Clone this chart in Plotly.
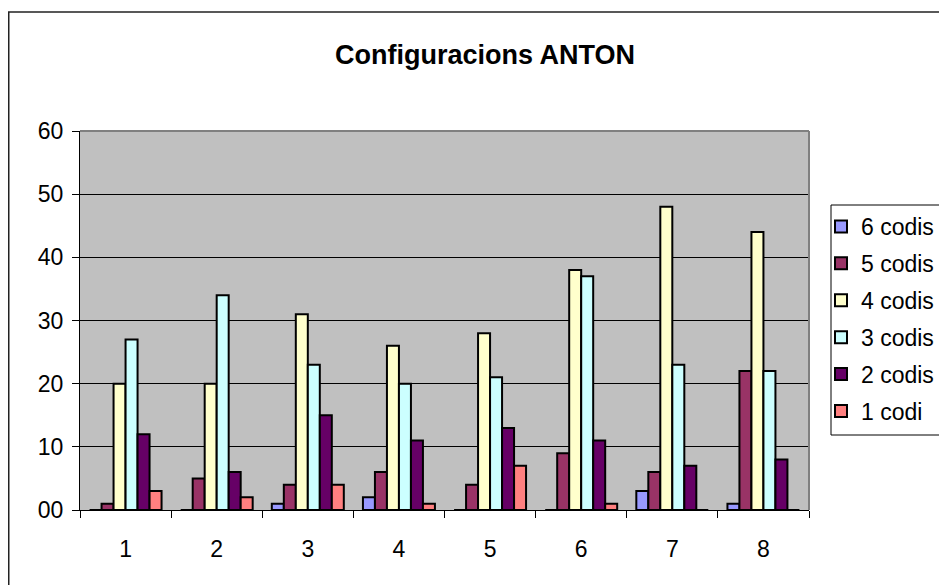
import plotly.graph_objects as go

categories = ["1", "2", "3", "4", "5", "6", "7", "8"]
series_names = ["6 codis", "5 codis", "4 codis", "3 codis", "2 codis", "1 codi"]
codis6 = [0, 0, 1, 2, 0, 0, 3, 1]
codis5 = [1, 5, 4, 6, 4, 9, 6, 22]
codis4 = [20, 20, 31, 26, 28, 38, 48, 44]
codis3 = [27, 34, 23, 20, 21, 37, 23, 22]
codis2 = [12, 6, 15, 11, 13, 11, 7, 8]
codis1 = [3, 2, 4, 1, 7, 1, 0, 0]
series_values = [codis6, codis5, codis4, codis3, codis2, codis1]
colors = ["#9999FF", "#993366", "#FFFFCC", "#CCFFFF", "#660066", "#FF8080"]
y_tickvals = [0, 10, 20, 30, 40, 50, 60]
y_ticktext = ["00", "10", "20", "30", "40", "50", "60"]

FONT = "Liberation Sans, Arial, sans-serif"
OFF = 8  # page body margin offset

FW, FH = 947, 585
# plot area in reference (screen) pixels
L, R, T, B = 80 - OFF, 809 - OFF, 131 - OFF, 510 - OFF
W, H = R - L, B - T


def px_x(p):
    return (p - OFF - L) / W


def px_y(p):
    return (B - (p - OFF)) / H


fig = go.Figure()
for name, vals, col in zip(series_names, series_values, colors):
    fig.add_trace(go.Bar(
        x=categories, y=vals, name=name, legendgroup=name,
        marker=dict(color=col, line=dict(color="black", width=2)),
    ))

shapes = [
    # outer chart border
    dict(type="rect", xref="paper", yref="paper",
         x0=px_x(8.75), x1=px_x(1000), y0=px_y(640), y1=px_y(12),
         line=dict(color="#222222", width=1.5), layer="below"),
    # legend box
    dict(type="rect", xref="paper", yref="paper",
         x0=px_x(831), x1=px_x(945), y0=px_y(435), y1=px_y(205),
         line=dict(color="black", width=1), fillcolor="white", layer="below"),
    # top and right plot border (gray)
    dict(type="line", xref="paper", yref="paper", x0=0, x1=1, y0=1, y1=1,
         line=dict(color="#808080", width=2), layer="above"),
    dict(type="line", xref="paper", yref="paper", x0=1, x1=1, y0=0, y1=1,
         line=dict(color="#808080", width=2), layer="above"),
]

fig.update_layout(
    width=FW, height=FH,
    margin=dict(l=L, r=FW - R, t=T, b=FH - B, pad=0, autoexpand=False),
    paper_bgcolor="white", plot_bgcolor="#C0C0C0",
    font=dict(family=FONT, size=23, color="black"),
    title=dict(text="<b>Configuracions ANTON</b>", x=(485 - OFF) / FW, xanchor="center",
               y=1 - (55 - OFF) / FH, yanchor="middle",
               font=dict(family=FONT, size=27, color="black")),
    barmode="group", bargap=0.21, bargroupgap=0,
    showlegend=True,
    legend=dict(x=px_x(821), y=px_y(205), xanchor="left", yanchor="top",
                bgcolor="rgba(0,0,0,0)", borderwidth=0,
                font=dict(family=FONT, size=23, color="black"),
                traceorder="grouped", tracegroupgap=4,
                itemwidth=30),
    shapes=shapes,
)

fig.update_xaxes(type="category", tickson="boundaries", ticks="outside", ticklen=7,
                 tickcolor="black", tickwidth=1, showline=True, linecolor="black",
                 linewidth=1, showgrid=False, ticklabelstandoff=18,
                 tickfont=dict(family=FONT, size=23, color="black"))
fig.update_yaxes(range=[0, 60], tickvals=y_tickvals, ticktext=y_ticktext,
                 ticks="outside", ticklen=7, tickcolor="black", tickwidth=1,
                 showline=True, linecolor="black", linewidth=1,
                 showgrid=True, gridcolor="black", gridwidth=1, zeroline=False,
                 ticklabelstandoff=4,
                 tickfont=dict(family=FONT, size=23, color="black"))

fig.write_html("out.html")
